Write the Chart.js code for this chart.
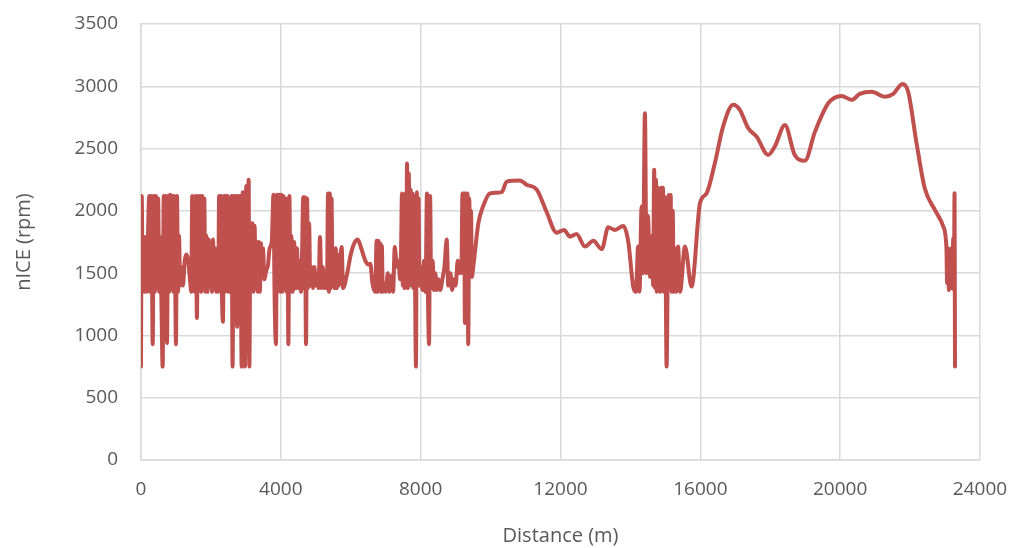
<!DOCTYPE html>
<html>
<head>
<meta charset="utf-8">
<script src="https://cdn.jsdelivr.net/npm/chart.js@4/dist/chart.umd.min.js"></script>
<style>
  html, body { margin: 0; padding: 0; background: #fff; }
  #wrap { width: 1019px; height: 548px; position: relative; }
</style>
</head>
<body>
<div id="wrap"><canvas id="rpmChart"></canvas></div>
<script>
// distance along the route (m)
const distanceM = [
  0, 20, 50, 80, 110, 140, 170, 200, 235, 265, 295, 335, 365, 395, 425, 455, 490, 520, 550, 580, 620, 650, 680, 710, 745, 775, 805, 835, 865, 895, 925, 955, 1000, 1030, 1060, 1087,
  1120, 1160, 1200, 1250, 1300, 1350, 1400,
  1440, 1465, 1490, 1515, 1540, 1565, 1600, 1630, 1660, 1690, 1720, 1750, 1780, 1810, 1840, 1870, 1900,
  1940, 1970, 2000, 2030, 2060, 2090, 2120, 2150, 2180,
  2210, 2235, 2260, 2285, 2315, 2345, 2375, 2400, 2425, 2450, 2475, 2500, 2530, 2560, 2590, 2620, 2650, 2680, 2710, 2750, 2780, 2810, 2840, 2880, 2910, 2940, 2975, 3010, 3040, 3080, 3100,
  3130, 3160, 3190, 3220, 3250, 3280, 3310, 3340, 3370, 3400, 3430, 3455,
  3490, 3530, 3580, 3630, 3680, 3740,
  3790, 3820, 3860, 3890, 3920, 3950, 3980, 4010, 4040, 4070, 4100, 4130, 4160, 4190, 4215, 4245, 4275, 4300,
  4340, 4380, 4420, 4460, 4500, 4540, 4580, 4610,
  4640, 4665, 4690, 4720, 4750, 4780, 4810,
  4840, 4880, 4920, 4960, 5000, 5040, 5080, 5120, 5160, 5200, 5240, 5280, 5320, 5350, 5375, 5400, 5425, 5450, 5480,
  5510, 5540, 5570, 5600, 5630, 5660, 5700, 5740, 5780,
  5900, 6000, 6100, 6200, 6300, 6410, 6500, 6560, 6620, 6700,
  6740, 6765, 6790, 6815, 6840, 6865, 6890, 6915, 6950, 7000, 7060, 7100, 7160, 7210, 7260, 7320,
  7370, 7410, 7440, 7465, 7490, 7515, 7540, 7565, 7590, 7610, 7635, 7660, 7690, 7715, 7740, 7765, 7790, 7815, 7840, 7865, 7890, 7915, 7940, 7965, 8000,
  8050, 8100, 8140, 8180, 8205, 8240, 8270, 8300, 8340, 8380, 8420, 8460, 8500, 8560, 8620, 8680, 8745, 8790, 8850, 8900, 8950, 9000, 9060, 9120,
  9170, 9195, 9220, 9245, 9265, 9290, 9315, 9340, 9360, 9390, 9415, 9440, 9465,
  9505, 9650, 9790, 9980, 10320, 10460, 10840, 11030, 11320, 11600, 11890, 12100, 12270, 12460, 12700, 12940, 13180, 13365, 13560, 13795, 13940,
  14080, 14160, 14220, 14260, 14320, 14360, 14415, 14460, 14500, 14560, 14620, 14650, 14680, 14705, 14730, 14755, 14780, 14805, 14830, 14855, 14880, 14905, 14930, 14955, 14990, 15035, 15070, 15100, 15125, 15150, 15180, 15210, 15240, 15275, 15310, 15365, 15420, 15560, 15750,
  15990, 16180, 16415, 16650, 16940, 17130, 17370, 17610, 17940, 18130, 18420, 18700, 18990, 19280, 19660, 20040, 20330, 20560, 20900, 21280, 21520, 21780, 21945, 22185, 22420, 22710, 22950,
  23040, 23060, 23085, 23110, 23135, 23160, 23185, 23210, 23235, 23255, 23272, 23285
];

// engine speed nICE (rpm)
const nIceRpm = [
  750, 2120, 1350, 1790, 1350, 1790, 1350, 1790, 2120, 1350, 2120, 930, 2120, 1350, 2120, 1380, 2100, 1350, 1790, 1350, 750, 2120, 1380, 2120, 940, 2120, 1350, 2130, 1380, 2120, 1350, 2120, 930, 2120, 1350, 1800,
  1400, 1550, 1400, 1600, 1650, 1600, 1450,
  1350, 2120, 1380, 2100, 1350, 2120, 1140, 2120, 1380, 2120, 1350, 2120, 1380, 2100, 1350, 1800, 1350,
  1770, 1400, 1650, 1350, 1770, 1380, 1700, 1350, 1600,
  1350, 2120, 1380, 2120, 1350, 1110, 2120, 1350, 2120, 1380, 2120, 1350, 2000, 1350, 2120, 750, 2120, 1380, 2120, 1070, 2120, 1350, 2120, 750, 2150, 1380, 750, 2200, 1380, 2250, 750,
  1900, 1380, 1900, 1350, 1880, 1380, 1750, 1350, 1750, 1350, 1740, 1500,
  1700, 1450, 1520, 1560, 1700, 1750,
  2130, 1350, 930, 2130, 1380, 2130, 1350, 2130, 1350, 2120, 1400, 2100, 1350, 2100, 930, 2120, 1350, 1800,
  1350, 1750, 1380, 1700, 1380, 1600, 1350, 1700,
  2110, 1380, 2110, 930, 2100, 1380, 1900,
  1400, 1550, 1380, 1550, 1400, 1500, 1380, 1790, 1380, 1550, 1380, 1500, 1380, 2140, 1350, 2140, 1380, 2100, 1400,
  1650, 1380, 1700, 1380, 1650, 1400, 1600, 1710, 1380,
  1500, 1650, 1740, 1770, 1700, 1605, 1570, 1575, 1420, 1350,
  1760, 1350, 1760, 1360, 1740, 1350, 1720, 1350, 1420, 1350, 1500, 1350, 1480, 1350, 1710, 1550,
  1600, 1450, 1700, 2140, 1400, 2100, 1380, 2140, 1450, 2380, 1380, 2300, 1450, 2170, 1400, 2140, 1380, 2120, 1400, 750, 2150, 1400, 2100, 1400, 1550,
  1365, 1600, 1350, 2140, 1400, 930, 2120, 1380, 1600, 1365, 1500, 1365, 1450, 1365, 1450, 1550, 1770, 1400, 1500, 1365, 1450, 1400, 1600, 1500,
  1600, 2140, 1500, 2140, 1100, 2140, 1470, 2140, 930, 2100, 1500, 2000, 1470,
  1550, 1900, 2040, 2140, 2150, 2235, 2243, 2210, 2170, 1993, 1825, 1847, 1793, 1815, 1713, 1760, 1692, 1868, 1847, 1879, 1750,
  1392, 1350, 1713, 1351, 2034, 1500, 2784, 1500, 1960, 1470, 1800, 1400, 2329, 1380, 2250, 1351, 2185, 1400, 2150, 1351, 2185, 1380, 2185, 1351, 2112, 750, 1600, 2128, 1400, 2128, 1351, 2000, 1351, 1700, 1351, 1713, 1351, 1713, 1392,
  2061, 2141, 2382, 2676, 2851, 2810, 2663, 2596, 2449, 2516, 2690, 2449, 2403, 2636, 2864, 2923, 2891, 2939, 2957, 2917, 2940, 3019, 2957, 2543, 2181, 2007, 1873,
  1700, 1420, 1700, 1365, 1650, 1380, 1700, 1380, 1780, 1365, 2141, 750
];

const xTicks = [0, 4000, 8000, 12000, 16000, 20000, 24000];
const yTicks = [0, 500, 1000, 1500, 2000, 2500, 3000, 3500];

const points = distanceM.map((d, i) => ({ x: d, y: nIceRpm[i] }));

const tickFont = { family: "'Open Sans', 'Noto Sans', sans-serif", size: 19 };
const titleFont = { family: "'Open Sans', 'Noto Sans', sans-serif", size: 20 };

const ctx = document.getElementById("rpmChart").getContext("2d");
new Chart(ctx, {
  type: "line",
  data: {
    datasets: [
      {
        label: "nICE",
        data: points,
        borderColor: "#C0504D",
        borderWidth: 4,
        pointRadius: 0,
        fill: false,
        cubicInterpolationMode: "monotone",
        borderJoinStyle: "round",
        borderCapStyle: "round",
      },
    ],
  },
  options: {
    responsive: true,
    maintainAspectRatio: false,
    animation: false,
    layout: { padding: { top: 24, right: 39, bottom: 0, left: 0 } },
    plugins: { legend: { display: false }, tooltip: { enabled: false } },
    scales: {
      x: {
        type: "linear",
        min: 0,
        max: 24000,
        afterBuildTicks: (scale) => { scale.ticks = xTicks.map((v) => ({ value: v })); },
        afterFit: (scale) => {
          scale.height = 88;
          scale.paddingLeft = 0;
          scale.paddingRight = 0;
        },
        ticks: { color: "#595959", font: tickFont, padding: 18, maxRotation: 0, callback: (v) => String(v) },
        grid: { color: "#d9d9d9", lineWidth: 1.5, drawTicks: false },
        border: { color: "#d9d9d9", width: 1.5 },
        title: { display: true, text: "Distance (m)", color: "#595959", font: titleFont, padding: { top: 0, bottom: 0 } },
      },
      y: {
        min: 0,
        max: 3500,
        afterBuildTicks: (scale) => { scale.ticks = yTicks.map((v) => ({ value: v })); },
        afterFit: (scale) => {
          scale.width = 141;
          scale.paddingTop = 0;
          scale.paddingBottom = 0;
        },
        ticks: { color: "#595959", font: tickFont, padding: 23, callback: (v) => String(v) },
        grid: { color: "#d9d9d9", lineWidth: 1.5, drawTicks: false },
        border: { color: "#d9d9d9", width: 1.5 },
        title: { display: true, text: "nICE (rpm)", color: "#595959", font: titleFont, padding: { top: 12, bottom: 0 } },
      },
    },
  },
});
</script>
</body>
</html>
